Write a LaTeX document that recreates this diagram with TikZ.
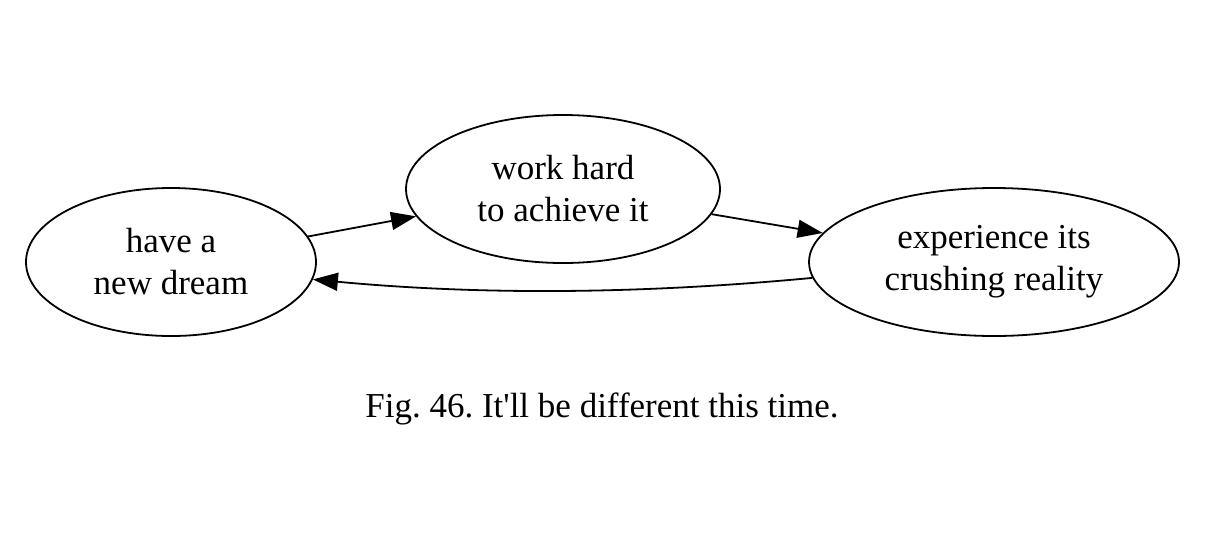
\documentclass[tikz,border=0pt]{standalone}
\usepackage{fontspec}
\setmainfont{Liberation Serif}[Ligatures=TeXOff]
\usetikzlibrary{shapes.geometric,arrows.meta}

\begin{document}
\frenchspacing
\begin{tikzpicture}[x=1pt,y=-1pt,
  state/.style={draw, ellipse, line width=1.8pt, inner sep=0pt, align=center,
    font=\fontsize{35}{42}\selectfont},
  arr/.style={line width=1.8pt, -{Triangle[length=25pt,width=18pt]}},
  caption/.style={font=\fontsize{35}{42}\selectfont}]

\useasboundingbox (0,0) rectangle (1223,539);

\node [state, minimum width=290pt, minimum height=148pt] (dream) at (171,262) {have a\\new dream};
\node [state, minimum width=314pt, minimum height=148pt] (work) at (563,189) {work hard\\to achieve it};
\node [state, minimum width=370pt, minimum height=148pt] (crush) at (994,262) {experience its\\crushing reality};

\draw [arr] (dream) -- (work);
\draw [arr] (work) -- (crush);
\draw [arr] (crush.185) .. controls +(-170,16) and +(170,16) .. (dream.-7);

\node [caption] (fig) at (602,409) {Fig. 46. It'll be different this time.};

\end{tikzpicture}
\end{document}
